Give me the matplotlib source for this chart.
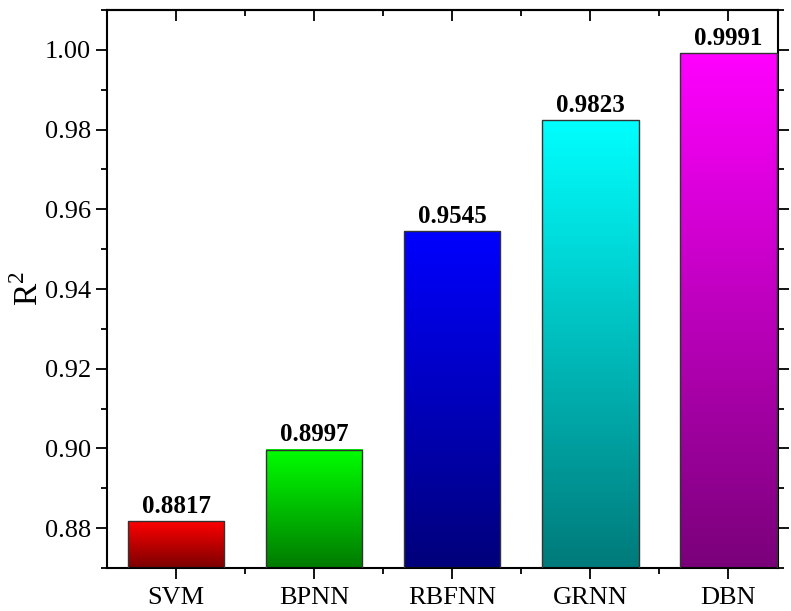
import numpy as np
import matplotlib
matplotlib.use("Agg")
import matplotlib.pyplot as plt
from matplotlib.colors import LinearSegmentedColormap
from matplotlib.ticker import MultipleLocator, FixedLocator, FormatStrFormatter

models = ["SVM", "BPNN", "RBFNN", "GRNN", "DBN"]
r2 = [0.8817, 0.8997, 0.9545, 0.9823, 0.9991]
top_colors = ["#FF0000", "#00FF00", "#0000FF", "#00FFFF", "#FF00FF"]
bottom_colors = ["#7A0000", "#007A00", "#00007A", "#007A7A", "#7A007A"]

plt.rcParams["font.family"] = ["Liberation Serif", "DejaVu Serif"]
plt.rcParams["mathtext.fontset"] = "custom"
plt.rcParams["mathtext.rm"] = "Liberation Serif"

fig = plt.figure(figsize=(7.91, 6.11), dpi=100)
ax = fig.add_axes([107/791, 1-568/611, (778-107)/791, (568-10)/611])

ymin, ymax = 0.87, 1.01
x = np.arange(1, len(models) + 1)
width = 0.7
grad = np.linspace(0, 1, 256).reshape(-1, 1)

for xi, val, ct, cb in zip(x, r2, top_colors, bottom_colors):
    cmap = LinearSegmentedColormap.from_list("g", [cb, ct])
    ax.imshow(grad, cmap=cmap, origin="lower", aspect="auto",
              extent=[xi - width/2, xi + width/2, ymin, val], zorder=2)
    ax.bar(xi, val - ymin, bottom=ymin, width=width, fill=False,
           edgecolor="#333333", linewidth=1.0, zorder=3)
    ax.text(xi, val + 0.0008, f"{val:.4f}", ha="center", va="bottom",
            fontsize=18, fontweight="bold", zorder=4)

ax.set_xlim(0.5, 5.36)
ax.set_ylim(ymin, ymax)
ax.set_xticks(x)
ax.set_xticklabels(models)
ax.xaxis.set_minor_locator(FixedLocator(x[:-1] + 0.5))
ax.yaxis.set_major_locator(MultipleLocator(0.02))
ax.yaxis.set_minor_locator(MultipleLocator(0.01))
ax.yaxis.set_major_formatter(FormatStrFormatter("%.2f"))
ax.set_ylabel("R$^2$", fontsize=24, labelpad=0)

ax.tick_params(axis="both", which="major", labelsize=19, length=8, width=1.3, direction="out")
ax.tick_params(axis="both", which="minor", length=4, width=1.3, direction="out")
ax.tick_params(axis="x", which="major", pad=6)
ax.tick_params(axis="y", which="both", right=True)

# top axis: ticks pointing inward, no labels
top = ax.secondary_xaxis("top")
top.set_xticks(x)
top.set_xticklabels([])
top.xaxis.set_minor_locator(FixedLocator(x[:-1] + 0.5))
top.tick_params(which="major", length=8, width=1.3, direction="in")
top.tick_params(which="minor", length=4, width=1.3, direction="in")
top.spines["top"].set_linewidth(1.5)

for s in ax.spines.values():
    s.set_linewidth(1.5)

fig.savefig("out.png", dpi=100)
